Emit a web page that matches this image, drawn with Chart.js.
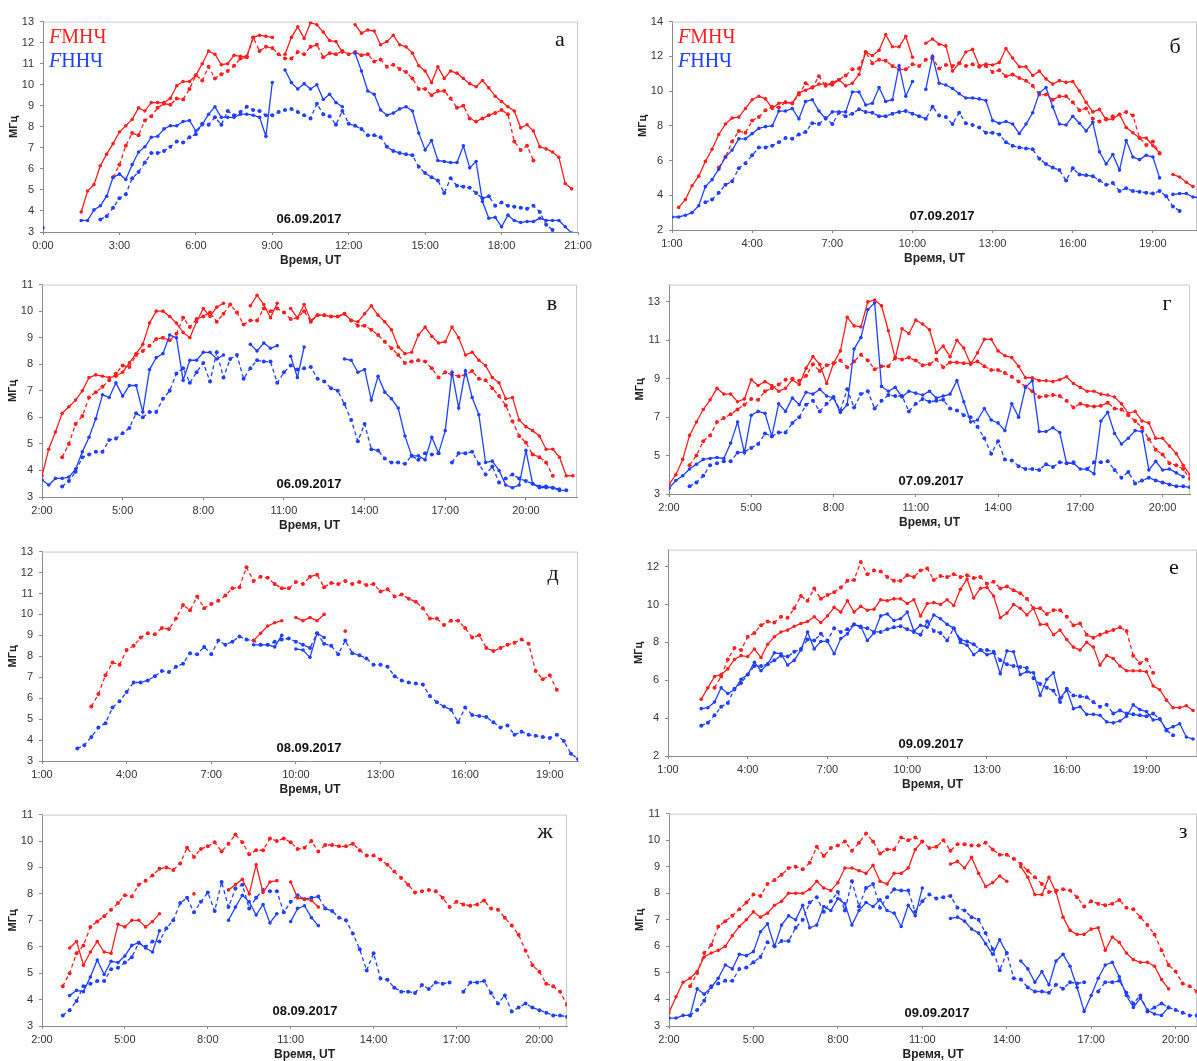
<!DOCTYPE html>
<html lang="ru">
<head>
<meta charset="UTF-8">
<title>FМНЧ и FННЧ, 06–09.09.2017</title>
<script src="https://cdn.jsdelivr.net/npm/chart.js"></script>
<style>
  body { margin: 0; background: #fff; width: 1197px; height: 1061px; overflow: hidden; position: relative; }
  canvas { position: absolute; }
</style>
</head>
<body>
<script>
  // soundings every 15 minutes, time in hours UT
  const STEP = 0.25;

  // median curves (dashed), days а, б, д, е
  const medA_mnch_t0 = 2.75;
  const medA_mnch = [5.6, 6.2, 7.1, 7.7, 7.6, 8.3, 8.5, 8.9, 9.1, 9.05,
    9.35, 9.3, 9.8, 10.45, 10.2, 10.85, 10.3, 10.5, 10.65, 10.9,
    11.25, 11.3, 12.25, 11.6, 11.8, 11.75, 11.45, 11.25, 11.25, 11.55,
    11.45, 11.8, 11.9, 11.3, 11.5, 11.45, 11.6, 11.45, 11.55, 11.4,
    11.45, 11.1, 11.2, 10.85, 10.95, 10.75, 10.6, 10.3, 9.8, 9.8,
    9.5, 9.7, 9.7, 9.35, 8.9, 9.0, 8.4, 8.25, 8.4, 8.55,
    8.65, 8.8, 8.6, 7.3, 6.9, 7.1, 6.4];
  const medA_nnch_t0 = 2.25;
  const medA_nnch = [3.6, 3.75, 4.15, 4.6, 4.8, 5.55, 5.85, 6.3, 6.75, 6.75,
    6.85, 7.05, 7.3, 7.25, 7.5, 7.65, 8.15, 8.1, 8.45, 8.1,
    8.75, 8.55, 8.7, 8.95, 8.8, 8.75, 8.55, 8.55, 8.7, 8.8,
    8.85, 8.7, 8.55, 8.4, 9.1, 8.6, 8.5, 8.1, 8.75, 8.15,
    8.05, 7.9, 7.6, 7.6, 7.5, 7.05, 6.85, 6.75, 6.7, 6.65,
    6.1, 5.8, 5.6, 5.45, 4.85, 5.55, 5.2, 5.15, 5.1, 4.85,
    4.6, 4.7, 4.25, 4.4, 4.25, 4.2, 4.15, 4.1, 4.25, 3.95,
    3.35, 3.1];

  // median curves (dashed), days в, г, ж, з
  const medB_mnch_t0 = 2.75;
  const medB_mnch = [4.5, 5.0, 5.75, 6.05, 6.75, 6.95, 7.15, 7.4, 7.65, 7.95,
    7.9, 8.35, 8.5, 8.7, 8.95, 9.0, 8.9, 9.15, 9.75, 9.4,
    9.7, 9.8, 9.95, 9.6, 9.9, 10.25, 9.95, 9.5, 9.65, 9.65,
    10.1, 10.0, 10.1, 9.95, 9.7, 9.75, 10.0, 9.6, 9.85, 9.85,
    9.8, 9.8, 9.9, 9.65, 9.45, 9.45, 9.3, 9.1, 8.85, 8.6,
    8.35, 8.05, 8.1, 8.15, 8.1, 7.85, 7.5, 7.7, 7.6, 7.55,
    7.6, 7.75, 7.45, 7.4, 7.1, 6.8, 6.45, 5.85, 5.3, 5.05,
    4.6, 4.5, 4.3, 3.8];
  const medB_nnch_t0 = 2.75;
  const medB_nnch = [3.4, 3.6, 3.95, 4.5, 4.6, 4.7, 4.7, 5.15, 5.2, 5.4,
    5.6, 6.15, 6.0, 6.2, 6.2, 6.7, 7.0, 7.65, 7.85, 7.3,
    7.7, 8.05, 7.35, 8.45, 7.5, 8.2, 8.35, 7.45, 7.85, 8.15,
    8.1, 8.1, 7.3, 7.7, 7.95, 7.8, 7.85, 7.9, 7.45, 7.35,
    7.1, 7.0, 6.5, 5.9, 5.1, 5.75, 4.8, 4.75, 4.45, 4.3,
    4.3, 4.25, 4.55, 4.4, 4.65, 4.6, 4.65, null, 4.3, 4.65,
    4.65, 4.7, 4.25, 3.85, 4.15, 3.55, 3.7, 3.85, 3.7, 3.6,
    3.5, 3.4, 3.4, 3.35, 3.25, 3.25];

  // а: 06.09.2017
  const a_mnch_t0 = 1.5;
  const a_mnch = [3.95, 4.95, 5.25, 6.15, 6.7, 7.2, 7.75, 8.05, 8.35, 8.9,
    8.75, 9.15, 9.15, 9.15, 9.35, 9.95, 10.15, 10.15, 10.45, 11.0,
    11.6, 11.45, 10.95, 11.0, 11.4, 11.35, 11.35, 12.25, 12.35, 12.3,
    12.25, null, 11.45, 12.25, 12.75, 12.2, 12.95, 12.85, 12.5, 12.1,
    12.05, 11.55, null, 12.85, 12.45, 12.6, 12.55, 11.9, 12.05, 12.35,
    11.9, 11.8, 11.5, 10.9, 10.65, 10.1, 10.85, 10.3, 10.65, 10.55,
    10.3, 10.05, 9.9, 10.2, 9.85, 9.45, 9.2, 8.95, 8.75, 7.95,
    8.1, 7.8, 7.05, 6.95, 6.8, 6.55, 5.3, 5.05];
  const a_nnch_t0 = 0;
  const a_nnch = [3.2, null, null, null, null, null, 3.55, 3.55, 4.05, 4.25,
    4.7, 5.6, 5.75, 5.5, 6.2, 6.8, 7.05, 7.5, 7.55, 7.9,
    8.05, 8.05, 8.25, 8.3, 7.8, 8.1, 8.6, 8.95, 8.45, 8.45,
    8.45, 8.6, 8.6, 8.55, 8.45, 7.55, 10.1, null, 10.7, 10.1,
    9.8, 10.05, 9.8, 10.0, 9.3, 9.55, 9.15, 8.95, null, 11.5,
    10.65, 9.7, 9.55, 8.8, 8.55, 8.65, 8.85, 8.95, 8.75, 7.7,
    6.9, 7.35, 6.4, 6.35, 6.3, 6.3, 7.1, 6.05, 6.35, 4.45,
    3.65, 3.7, 3.25, 3.8, 3.55, 3.45, 3.5, 3.5, 3.65, 3.55,
    3.55, 3.55, 3.25, 2.95];

  // б: 07.09.2017
  const b_mnch_t0 = 1.25;
  const b_mnch = [3.3, 3.75, 4.55, 5.1, 5.95, 6.65, 7.5, 8.1, 8.45, 8.5,
    9.0, 9.5, 9.7, 9.55, 9.0, 9.3, 9.35, 9.3, 9.9, 10.05,
    10.2, 10.4, 10.4, 10.35, 10.65, 10.3, 10.45, 10.95, 12.25, 12.05,
    12.35, 13.25, 12.55, 12.55, 13.15, 11.95, null, 12.75, 13.0, 12.7,
    12.6, 11.15, 11.6, 12.25, 12.4, 11.45, 11.55, 11.5, 11.65, 12.45,
    11.9, 11.4, 11.4, 10.9, 11.15, 10.7, 10.4, 10.6, 10.5, 10.55,
    10.0, 9.35, 8.8, 8.95, 8.35, 8.4, 8.65, 7.9, 7.6, 7.3,
    7.3, 6.85, 6.45, null, 5.2, 5.05, 4.75, 4.5];
  const b_nnch_t0 = 1.0;
  const b_nnch = [2.75, 2.75, 2.85, 3.0, 3.4, 4.5, 4.9, 5.5, 6.2, 6.6,
    7.25, 7.25, 7.55, 7.85, 7.95, 8.0, 8.85, 8.85, 9.0, 8.4,
    9.4, 9.5, 8.85, 8.4, 8.8, 8.8, 8.8, 9.95, 9.95, 9.2,
    9.3, 10.2, 9.4, 9.5, 11.45, 9.7, 10.55, null, 10.1, 12.0,
    10.45, 10.35, 10.15, 9.85, 9.6, 9.6, 9.55, 9.45, 8.3, 8.15,
    8.25, 8.1, 7.55, 8.1, 8.75, 9.9, 10.2, 9.1, 8.1, 8.05,
    8.55, 8.15, 7.7, 8.2, 6.5, 5.8, 6.35, 5.45, 7.15, 6.2,
    6.05, 6.3, 6.2, 5.0, null, 4.05, 4.1, 4.1, 3.9, 3.85];

  // в: 06.09.2017
  const v_mnch_t0 = 2.0;
  const v_mnch = [3.8, 4.8, 5.45, 6.15, 6.4, 6.65, 7.0, 7.5, 7.6, 7.55,
    7.5, 7.55, 7.7, 8.05, 8.4, 8.75, 9.55, 10.0, 10.0, 9.8,
    9.55, 9.2, 9.0, 9.6, 10.1, 9.8, 10.15, 10.3, null, null,
    null, 10.2, 10.6, 10.25, 9.75, 10.3, null, 10.1, 9.75, 10.25,
    9.65, 9.85, 9.85, 9.8, 9.8, 9.9, 9.65, 9.6, 9.9, 10.2,
    9.85, 9.6, 9.3, 8.65, 8.4, 8.45, 9.1, 9.4, 9.05, 8.8,
    8.85, 9.4, 9.0, 8.35, 8.45, 8.15, 7.95, 7.5, 7.3, 6.7,
    6.75, 5.9, 5.65, 5.5, 5.3, 4.8, 4.8, 4.5, 3.8, 3.8];
  const v_nnch_t0 = 2.0;
  const v_nnch = [3.65, 3.45, 3.7, 3.7, 3.75, 4.05, 4.7, 5.25, 5.95, 6.85,
    6.75, 7.3, 6.8, 7.2, 7.2, 6.2, 7.8, 8.25, 8.4, 9.1,
    9.0, 7.4, 8.15, 8.15, 8.45, 8.45, 8.2, 8.35, null, null,
    null, 8.75, 8.5, 8.8, 8.6, 8.7, null, 8.3, 7.5, 8.65,
    null, null, null, null, null, 8.2, 8.15, 7.7, 7.8, 6.65,
    7.55, 6.95, 6.7, 6.35, 5.3, 4.55, 4.55, 4.4, 5.25, 4.65,
    5.5, 7.7, 6.35, 7.75, 6.75, 6.1, 4.3, 4.35, 4.0, 3.45,
    3.35, 3.45, 4.75, 3.5, 3.35, 3.35, 3.35, 3.3];

  // г: 07.09.2017
  const g_mnch_t0 = 2.0;
  const g_mnch = [3.5, 4.0, 4.8, 6.05, 6.75, 7.4, 7.9, 8.5, 8.2, 8.2,
    7.8, 7.95, 8.95, 8.65, 8.85, 8.65, 8.35, 8.5, 8.95, 8.7,
    9.55, 10.15, 9.75, 8.75, 9.8, 10.45, 12.2, 11.75, 11.7, 13.0,
    13.1, 12.8, 11.5, 10.05, 11.6, 11.35, 12.05, 11.85, 11.55, 10.35,
    10.7, 10.15, 11.0, 10.6, 9.75, 10.35, 11.05, 11.05, 10.45, 10.2,
    10.1, 9.65, 9.05, 9.05, 8.9, 8.9, 8.85, 8.95, 9.1, 8.75,
    8.55, 8.35, 8.35, 8.2, 8.15, 8.05, 7.7, 7.2, 7.3, 6.8,
    6.7, 5.9, 5.9, 5.5, 5.1, 4.5, 4.0];
  const g_nnch_t0 = 2.0;
  const g_nnch = [3.3, 3.7, 3.95, 4.3, 4.55, 4.8, 4.85, 4.9, 4.85, 5.65,
    6.75, 5.15, 7.1, 7.3, 7.2, 6.0, 7.7, 7.3, 8.0, 7.65,
    8.3, 8.2, 8.45, 8.1, 8.0, 7.25, 7.65, 10.55, 11.15, 12.6,
    12.95, 8.6, 8.35, 8.55, 8.05, 8.35, 8.25, 8.15, 8.35, 8.0,
    8.1, 8.2, 8.9, 7.8, 6.75, 6.85, 7.45, 6.85, 6.7, 6.3,
    7.7, 7.0, 8.55, 8.9, 6.25, 6.25, 6.45, 6.2, 4.6, 4.6,
    4.3, 4.3, 4.05, 6.8, 7.25, 6.15, 5.6, 5.9, 6.3, 6.25,
    4.25, 4.7, 4.25, 4.3, 4.1, 3.9];

  // д: 08.09.2017
  const d_mnch_t0 = 8.5;
  const d_mnch = [8.75, 9.1, 9.45, 9.6, 9.7, null, 9.85, 9.7, 9.85, 9.7, 10.0, null, null, 9.2];
  const d_nnch_t0 = 8.5;
  const d_nnch = [8.55, 8.55, 8.55, 8.45, 9.0, null, 8.35, 8.3, 7.95, 9.1, 8.9];

  // е: 09.09.2017
  const e_mnch_t0 = 2.25;
  const e_mnch = [5.0, 5.6, 6.2, 6.3, 6.6, 7.1, 7.3, 7.25, 7.65, 7.2,
    7.9, 8.3, 8.55, 8.65, 8.85, 9.0, 9.1, 9.35, 9.05, 9.4,
    9.85, 9.6, 10.2, 9.6, 9.9, 9.7, 9.75, 10.25, 10.2, 10.3,
    10.3, 10.05, 10.25, 9.4, 10.05, 10.1, 10.0, 10.25, 9.95, 10.8,
    11.35, 10.35, 10.85, 10.9, 10.45, 9.3, 9.55, 10.0, 9.8, 9.45,
    9.8, 8.95, 8.95, 8.4, 8.65, 8.15, 7.75, 7.6, 8.0, 7.75,
    6.8, 7.3, 7.15, 6.75, 6.5, 6.5, 6.5, 6.45, 5.7, 5.5,
    4.95, 4.55, 4.55, 4.65, 4.4];
  const e_nnch_t0 = 2.25;
  const e_nnch = [4.5, 4.55, 4.85, 5.6, 5.3, 5.5, 6.05, 6.3, 6.95, 6.5,
    6.85, 7.45, 7.4, 6.8, 7.05, 7.6, 8.55, 7.65, 8.05, 8.05,
    7.4, 8.2, 8.45, 8.95, 8.85, 8.1, 8.5, 9.4, 9.5, 9.15,
    9.25, 9.6, 8.6, 8.9, 8.8, 9.45, 9.25, 8.95, 8.75, 8.0,
    7.85, 7.35, 7.6, 7.35, 7.45, 6.35, 7.55, 7.5, 6.3, 6.45,
    6.4, 5.2, 6.05, 6.4, 5.05, 5.5, 4.5, 4.6, 4.2, 4.2,
    4.15, 3.8, 3.75, 3.85, 4.1, 4.7, 4.45, 4.35, 3.9, 3.95,
    3.4, 3.55, 3.7, 3.0, 2.9];

  // ж: 08.09.2017
  const zh_mnch_t0 = 3.0;
  const zh_mnch = [5.95, 6.2, 5.3, 5.8, 6.2, 5.8, 5.75, 6.85, 6.75, 7.0,
    7.0, 6.75, 6.95, 7.25, null, null, null, null, 8.0, null,
    null, null, null, 8.15, 8.35, 8.55, 8.0, 9.1, 8.05, 8.45,
    8.5, null, 8.45, 7.85, 7.8, 7.75, 7.5];
  const zh_nnch_t0 = 3.0;
  const zh_nnch = [4.15, 4.35, 4.3, 4.85, 5.5, 4.95, 5.45, 5.4, 5.65, 6.05,
    6.15, 5.95, 5.8, 6.6, null, null, null, null, null, null,
    null, null, null, 7.0, 7.5, 7.95, 7.7, 7.2, 7.6, 6.9,
    7.25, null, 6.95, 7.45, 7.55, 7.1, 6.8];

  // з: 09.09.2017
  const z_mnch_t0 = 2.0;
  const z_mnch = [3.5, 4.1, 4.65, 4.8, 5.05, 5.6, 5.75, 5.85, 6.0, 6.4,
    6.75, 7.0, 7.3, 7.1, 7.25, 7.55, 7.7, 8.0, 8.0, 8.0,
    8.15, 8.45, 8.2, 8.1, 8.4, 8.95, 8.95, 8.85, 8.75, 9.05,
    8.45, 8.35, 8.75, 8.75, 8.95, 9.65, 9.95, null, null, null,
    9.1, 9.2, 8.95, 9.35, 8.75, 8.25, 8.4, 8.65, 8.45, null,
    9.0, 8.6, 7.95, 7.95, 8.6, 8.05, 7.1, 6.6, 6.45, 6.45,
    6.65, 6.7, 5.85, 6.35, 6.15, 5.75, 5.5, 5.4, 5.4, 5.25,
    4.75, 4.4];
  const z_nnch_t0 = 2.0;
  const z_nnch = [3.3, 3.3, 3.4, 3.4, 4.4, 4.2, 4.45, 4.8, 5.3, 5.15,
    5.7, 5.65, 5.8, 6.55, 6.85, 6.0, 6.8, 7.15, 7.0, 7.55,
    6.7, 6.8, 7.5, 7.35, 7.8, 7.6, 6.8, 7.35, 7.65, 7.5,
    7.75, 7.35, 7.25, 6.75, 7.55, 7.15, 8.2, null, null, null,
    7.05, 7.1, 6.95, 6.65, 6.5, 6.1, 5.7, 6.25, 5.75, null,
    5.45, 5.15, 4.65, 5.05, 4.55, 5.45, 5.7, 5.25, 4.45, 3.55,
    4.15, 4.8, 5.3, 5.4, 4.85, 4.15, 3.7, 4.05, 3.6, 3.45,
    3.4, 3.7];

  // tick values
  const xTicks0 = [0, 3, 6, 9, 12, 15, 18, 21];
  const xTicks1 = [1, 4, 7, 10, 13, 16, 19];
  const xTicks2 = [2, 5, 8, 11, 14, 17, 20];
  const yTicks3to13 = [3, 4, 5, 6, 7, 8, 9, 10, 11, 12, 13];
  const yTicks3to11 = [3, 4, 5, 6, 7, 8, 9, 10, 11];
  const yTicks2to14 = [2, 4, 6, 8, 10, 12, 14];
  const yTicksOdd = [3, 5, 7, 9, 11, 13];
  const yTicks2to12 = [2, 4, 6, 8, 10, 12];

  const RED = '#ff1f1f';
  const BLUE = '#2040ff';
  const FONT = '"Liberation Sans", Arial, sans-serif';
  Chart.defaults.font.family = FONT;

  function pts(t0, vals) {
    return vals.map((v, i) => ({ x: t0 + i * STEP, y: v }));
  }

  function line(t0, vals, color, dashed) {
    return {
      data: pts(t0, vals),
      borderColor: color,
      backgroundColor: color,
      borderWidth: 1.3,
      borderDash: dashed ? [4, 3] : [],
      pointRadius: dashed ? 2 : 1.8,
      pointBorderWidth: 0,
      pointHoverRadius: 0,
      spanGaps: false,
      tension: 0
    };
  }

  function setA(mt0, m, nt0, n) {
    const out = [];
    if (m) out.push(line(mt0, m, RED, false));
    if (n) out.push(line(nt0, n, BLUE, false));
    out.push(line(medA_mnch_t0, medA_mnch, RED, true));
    out.push(line(medA_nnch_t0, medA_nnch, BLUE, true));
    return out;
  }
  function setB(mt0, m, nt0, n) {
    return [
      line(mt0, m, RED, false),
      line(nt0, n, BLUE, false),
      line(medB_mnch_t0, medB_mnch, RED, true),
      line(medB_nnch_t0, medB_nnch, BLUE, true)
    ];
  }

  // box = plot area [left, top, right, bottom] on the page
  const panels = [
    { box: [43, 19, 578, 232], x: [0, 21], y: [3, 13], xt: xTicks0, yt: yTicks3to13,
      sets: setA(a_mnch_t0, a_mnch, a_nnch_t0, a_nnch),
      date: '06.09.2017', dx: 266, dy: 198, letter: 'а', lx: 517, ly: 19, legend: true },
    { box: [672, 19, 1197, 230], x: [1, 20.65], y: [2, 14], xt: xTicks1, yt: yTicks2to14,
      sets: setA(b_mnch_t0, b_mnch, b_nnch_t0, b_nnch),
      date: '07.09.2017', dx: 270, dy: 195, letter: 'б', lx: 503, ly: 26, legend: true },
    { box: [42, 282, 577, 497], x: [2, 21.9], y: [3, 11], xt: xTicks2, yt: yTicks3to11,
      sets: setB(v_mnch_t0, v_mnch, v_nnch_t0, v_nnch),
      date: '06.09.2017', dx: 267, dy: 200, letter: 'в', lx: 510, ly: 20 },
    { box: [669, 282, 1190, 494], x: [2, 21], y: [3, 13.9], xt: xTicks2, yt: yTicksOdd,
      sets: setB(g_mnch_t0, g_mnch, g_nnch_t0, g_nnch),
      date: '07.09.2017', dx: 262, dy: 197, letter: 'г', lx: 498, ly: 20 },
    { box: [42, 549, 578, 761], x: [1, 20], y: [3, 13], xt: xTicks1, yt: yTicks3to13,
      sets: setA(d_mnch_t0, d_mnch, d_nnch_t0, d_nnch),
      date: '08.09.2017', dx: 267, dy: 197, letter: 'д', lx: 511, ly: 23 },
    { box: [668, 547, 1197, 756], x: [1, 20.9], y: [2, 12.9], xt: xTicks1, yt: yTicks2to12,
      sets: setA(e_mnch_t0, e_mnch, e_nnch_t0, e_nnch),
      date: '09.09.2017', dx: 263, dy: 195, letter: 'е', lx: 506, ly: 19 },
    { box: [42, 812, 567, 1026], x: [2, 21], y: [3, 11], xt: xTicks2, yt: yTicks3to11,
      sets: setB(zh_mnch_t0, zh_mnch, zh_nnch_t0, zh_nnch),
      date: '08.09.2017', dx: 263, dy: 197, letter: 'ж', lx: 503, ly: 18 },
    { box: [669, 811, 1197, 1026], x: [2, 20.76], y: [3, 11], xt: xTicks2, yt: yTicks3to11,
      sets: setB(z_mnch_t0, z_mnch, z_nnch_t0, z_nnch),
      date: '09.09.2017', dx: 268, dy: 200, letter: 'з', lx: 514, ly: 19 }
  ];

  // plot frame (top/right) and the labels inside each panel
  const panelDecor = {
    id: 'panelDecor',
    beforeDatasetsDraw(chart) {
      const { ctx, chartArea: a } = chart;
      ctx.save();
      ctx.strokeStyle = '#c8c8c8';
      ctx.lineWidth = 1;
      ctx.beginPath();
      ctx.moveTo(a.left, a.top + 0.5);
      ctx.lineTo(a.right - 0.5, a.top + 0.5);
      ctx.lineTo(a.right - 0.5, a.bottom);
      ctx.stroke();
      ctx.restore();
    },
    afterDatasetsDraw(chart, args, o) {
      const { ctx, chartArea: a } = chart;
      ctx.save();
      ctx.textBaseline = 'middle';
      ctx.textAlign = 'center';
      ctx.fillStyle = '#111';
      ctx.font = 'bold 13px ' + FONT;
      ctx.fillText(o.date, a.left + o.dx, a.top + o.dy);
      ctx.font = '22px "Liberation Serif", serif';
      ctx.fillText(o.letter, a.left + o.lx, a.top + o.ly);
      if (o.legend) {
        ctx.textAlign = 'left';
        [['МНЧ', RED, 16], ['ННЧ', BLUE, 40]].forEach(([txt, col, y]) => {
          const x0 = a.left + 6;
          ctx.fillStyle = col;
          ctx.font = 'italic 20px "Liberation Serif", serif';
          ctx.fillText('F', x0, a.top + y);
          const w = ctx.measureText('F').width;
          ctx.font = '20px "Liberation Serif", serif';
          ctx.fillText(txt, x0 + w, a.top + y);
        });
      }
      ctx.restore();
    }
  };

  const axisGrid = { display: true, drawOnChartArea: false, drawTicks: true, tickLength: 3, color: '#8a8a8a' };
  const axisBorder = { display: true, color: '#8a8a8a', width: 1 };

  panels.forEach(p => {
    const [L, T, R, B] = p.box;
    const cv = document.createElement('canvas');
    cv.width = R - L + 60;
    cv.height = B - T + 50;
    cv.style.left = (L - 40) + 'px';
    cv.style.top = (T - 10) + 'px';
    document.body.appendChild(cv);

    new Chart(cv, {
      type: 'line',
      data: { datasets: p.sets },
      options: {
        responsive: false,
        animation: false,
        devicePixelRatio: 1,
        layout: { padding: { left: 0, top: 10, right: 20, bottom: 0 } },
        plugins: {
          legend: { display: false },
          tooltip: { enabled: false },
          panelDecor: { date: p.date, dx: p.dx, dy: p.dy, letter: p.letter, lx: p.lx, ly: p.ly, legend: !!p.legend }
        },
        scales: {
          x: {
            type: 'linear', min: p.x[0], max: p.x[1],
            afterBuildTicks: ax => { ax.ticks = p.xt.map(v => ({ value: v })); },
            afterFit: ax => { ax.height = 40; },
            ticks: { callback: v => v + ':00', autoSkip: false, maxRotation: 0, padding: 4,
                     color: '#333', font: { size: 11 } },
            grid: axisGrid, border: axisBorder,
            title: { display: true, text: 'Время, UT', color: '#222',
                     font: { size: 12, weight: 'bold' }, padding: { top: 0, bottom: 4 } }
          },
          y: {
            min: p.y[0], max: p.y[1],
            afterBuildTicks: ax => { ax.ticks = p.yt.map(v => ({ value: v })); },
            afterFit: ax => { ax.width = 40; },
            ticks: { callback: v => v, padding: 6, color: '#333', font: { size: 11 } },
            grid: axisGrid, border: axisBorder,
            title: { display: true, text: 'МГц', color: '#222',
                     font: { size: 11, weight: 'bold' }, padding: { top: 4, bottom: 0 } }
          }
        }
      },
      plugins: [panelDecor]
    });
  });
</script>
</body>
</html>
